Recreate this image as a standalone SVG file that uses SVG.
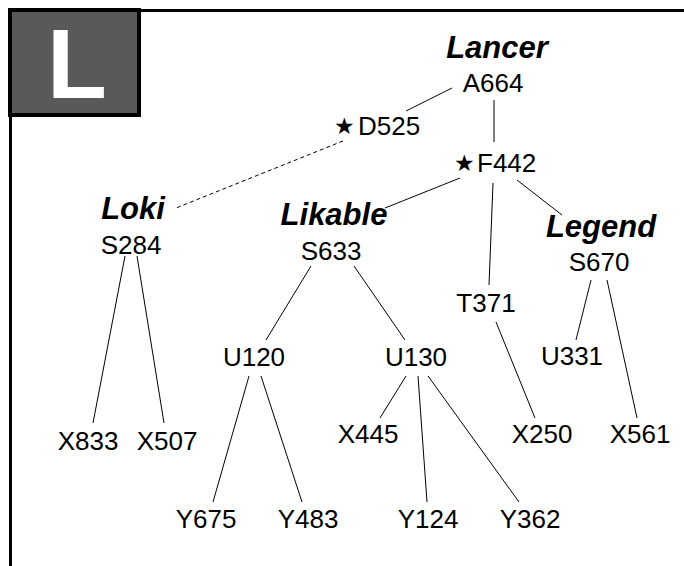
<svg xmlns="http://www.w3.org/2000/svg" width="684" height="566" viewBox="0 0 684 566">
<style>
.code{font-family:"Liberation Sans",Arial,sans-serif;font-size:26px;fill:#000;text-anchor:middle}
.name{font-family:"Liberation Sans",Arial,sans-serif;font-size:31px;font-weight:bold;font-style:italic;fill:#000;text-anchor:middle}
.star{font-family:"DejaVu Sans",sans-serif;font-size:23px;fill:#000}
.plain{font-family:"Liberation Sans",Arial,sans-serif;font-size:26px;fill:#000}
.edge{stroke:#000;stroke-width:1;fill:none}
.dash{stroke-dasharray:4 3}
</style>
<rect width="684" height="566" fill="#fff"/>
<g id="frame">
<line x1="8" y1="10.5" x2="684" y2="10.5" stroke="#000" stroke-width="3"/>
<line x1="10.5" y1="8" x2="10.5" y2="566" stroke="#000" stroke-width="3"/>
<rect x="10" y="10" width="129" height="105" fill="#595959" stroke="#000" stroke-width="4"/>
<text x="77" y="98" font-family="Liberation Sans,Arial,sans-serif" font-size="98" font-weight="bold" fill="#fff" text-anchor="middle">L</text>
</g>
<g id="connectors">
<line class="edge" x1="452" y1="88" x2="406" y2="111"/>
<line class="edge" x1="494" y1="100" x2="494" y2="142"/>
<line class="edge dash" x1="343" y1="141" x2="176" y2="208"/>
<line class="edge" x1="460" y1="178" x2="385" y2="208"/>
<line class="edge" x1="493" y1="183" x2="489" y2="285"/>
<line class="edge" x1="517" y1="180" x2="562" y2="215"/>
<line class="edge" x1="591" y1="280" x2="576" y2="340"/>
<line class="edge" x1="607" y1="280" x2="637" y2="418"/>
<line class="edge" x1="496" y1="322" x2="535" y2="418"/>
<line class="edge" x1="125" y1="256" x2="93" y2="423"/>
<line class="edge" x1="137" y1="256" x2="164" y2="423"/>
<line class="edge" x1="311" y1="266" x2="266" y2="340"/>
<line class="edge" x1="354" y1="266" x2="405" y2="340"/>
<line class="edge" x1="249" y1="376" x2="213" y2="502"/>
<line class="edge" x1="261" y1="376" x2="302" y2="502"/>
<line class="edge" x1="406" y1="376" x2="380" y2="418"/>
<line class="edge" x1="418" y1="376" x2="427" y2="502"/>
<line class="edge" x1="428" y1="376" x2="519" y2="502"/>
</g>
<g id="A664"><text class="name" x="497" y="58">Lancer</text><text class="code" x="493" y="92">A664</text></g>
<g id="D525"><text class="star" x="334" y="134">★</text><text class="plain" x="358" y="135">D525</text></g>
<g id="F442"><text class="star" x="454" y="171">★</text><text class="plain" x="477" y="172">F442</text></g>
<g id="S284"><text class="name" x="133" y="219">Loki</text><text class="code" x="131" y="254">S284</text></g>
<g id="S633"><text class="name" x="334" y="225">Likable</text><text class="code" x="331" y="260">S633</text></g>
<g id="S670"><text class="name" x="601" y="237">Legend</text><text class="code" x="599" y="271">S670</text></g>
<g id="T371"><text class="code" x="486" y="312">T371</text></g>
<g id="U120"><text class="code" x="254" y="366">U120</text></g>
<g id="U130"><text class="code" x="416" y="366">U130</text></g>
<g id="U331"><text class="code" x="572" y="365">U331</text></g>
<g id="X833"><text class="code" x="88" y="450">X833</text></g>
<g id="X507"><text class="code" x="167" y="450">X507</text></g>
<g id="X445"><text class="code" x="368" y="443">X445</text></g>
<g id="X250"><text class="code" x="542" y="443">X250</text></g>
<g id="X561"><text class="code" x="640" y="443">X561</text></g>
<g id="Y675"><text class="code" x="206" y="528">Y675</text></g>
<g id="Y483"><text class="code" x="308" y="528">Y483</text></g>
<g id="Y124"><text class="code" x="428" y="528">Y124</text></g>
<g id="Y362"><text class="code" x="530" y="528">Y362</text></g>
</svg>
